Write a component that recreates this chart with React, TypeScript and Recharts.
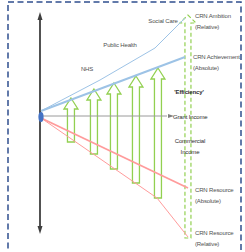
import { Bar, ComposedChart, Line, ReferenceArea, Scatter, XAxis, YAxis } from 'recharts'

// origin of the diagram sits at x=0, y=0 (grant income baseline)
const ARROW_X = [31, 54, 74, 96, 118, 148]
const ARROW_TOP = [18, 27, 33, 40, 48, 101]
const ARROW_BOTTOM = [-26, -38, -53, -67, -82, -122]
const ARROW_DASHED = [false, false, false, false, false, true]

const AMBITION = [
  { x: 1, y: 5 },
  { x: 60, y: 36 },
  { x: 115, y: 68 },
  { x: 145, y: 98 },
]
const ACHIEVEMENT = [
  { x: 1, y: 5 },
  { x: 145, y: 59 },
]
const RESOURCE_ABS = [
  { x: 1, y: -2 },
  { x: 148, y: -72 },
]
const RESOURCE_REL = [
  { x: 1, y: -2 },
  { x: 117, y: -82 },
  { x: 148, y: -121 },
]
const V_AXIS = [
  { x: 0, y: -111 },
  { x: 0, y: 98 },
]
const H_AXIS = [
  { x: 0, y: 0 },
  { x: 127, y: 0 },
]
const HEADS = [
  { x: 0, y: 100, dir: 'up' },
  { x: 0, y: -114, dir: 'down' },
  { x: 131, y: 0, dir: 'right' },
]
const ORIGIN = [{ x: 0, y: 0 }]

const LABELS = [
  { x: 123, y: 96, anchor: 'middle', lines: ['Social Care'] },
  { x: 80, y: 72, anchor: 'middle', lines: ['Public Health'] },
  { x: 47, y: 48, anchor: 'middle', lines: ['NHS'] },
  { x: 155, y: 101, anchor: 'start', lines: ['CRN Ambition', '(Relative)'] },
  { x: 153, y: 60, anchor: 'start', lines: ['CRN Achievement', '(Absolute)'] },
  { x: 149, y: 25, anchor: 'middle', lines: ["'Efficiency'"], bold: true },
  { x: 133, y: 0, anchor: 'start', lines: ['Grant Income'], dark: true },
  { x: 150, y: -24, anchor: 'middle', lines: ['Commercial', 'Income'], dark: true },
  { x: 155, y: -73, anchor: 'start', lines: ['CRN Resource', '(Absolute)'] },
  { x: 155, y: -116, anchor: 'start', lines: ['CRN Resource', '(Relative)'] },
]

const arrows = ARROW_X.map((x, i) => ({
  x,
  range: [ARROW_BOTTOM[i], ARROW_TOP[i]],
  dashed: ARROW_DASHED[i],
}))

const GREEN = '#92d050'
const BLUE = '#9dc3e6'
const RED = '#ff9b9b'
const AXIS = '#3f3f3f'
const TEXT = '#505050'

function ArrowShape(props: any) {
  const { x, y, width, height, payload } = props
  if (x == null || y == null) return null
  const top = Math.min(y, y + height)
  const bottom = Math.max(y, y + height)
  const cx = x + width / 2
  const head = payload.dashed ? 8 : 11
  const half = payload.dashed ? 8 : 7
  const shaft = payload.dashed ? 3 : 3.5
  const d = [
    `M${cx},${top}`,
    `L${cx + half},${top + head}`,
    `L${cx + shaft},${top + head}`,
    `L${cx + shaft},${bottom}`,
    `L${cx - shaft},${bottom}`,
    `L${cx - shaft},${top + head}`,
    `L${cx - half},${top + head}`,
    'Z',
  ].join(' ')
  return (
    <path
      d={d}
      fill="none"
      stroke={GREEN}
      strokeWidth={payload.dashed ? 1.2 : 1.3}
      strokeDasharray={payload.dashed ? '4 2.5' : undefined}
    />
  )
}

function HeadDot(props: any) {
  const { cx, cy, payload, index } = props
  let pts = ''
  if (payload.dir === 'up') pts = `${cx},${cy - 4} ${cx - 2.5},${cy + 4} ${cx + 2.5},${cy + 4}`
  if (payload.dir === 'down') pts = `${cx},${cy + 4} ${cx - 2.5},${cy - 4} ${cx + 2.5},${cy - 4}`
  if (payload.dir === 'right') pts = `${cx + 3},${cy} ${cx - 3},${cy - 2} ${cx - 3},${cy + 2}`
  return <polygon key={index} points={pts} fill={payload.dir === 'right' ? '#7f7f7f' : AXIS} />
}

function OriginDot(props: any) {
  const { cx, cy, index } = props
  return <ellipse key={index} cx={cx + 1} cy={cy + 1} rx={2.6} ry={5} fill="#4472c4" />
}

function LabelShape(props: any) {
  const { cx, cy, payload } = props
  return (
    <text
      x={cx}
      y={cy}
      textAnchor={payload.anchor}
      fontFamily="'Liberation Sans Narrow', 'Liberation Sans', sans-serif"
      fontSize={6}
      letterSpacing={-0.15}
      fontWeight={payload.bold ? 'bold' : 'normal'}
      fill={payload.bold || payload.dark ? '#2e2e2e' : TEXT}
    >
      {payload.lines.map((l: string, i: number) => (
        <tspan key={i} x={cx} dy={i === 0 ? 2.5 : 11.5}>
          {l}
        </tspan>
      ))}
    </text>
  )
}

export default function App() {
  return (
    <div style={{ position: 'absolute', left: 0, top: 0, width: 245, height: 252, background: '#fff' }}>
      <ComposedChart width={245} height={252} data={arrows} margin={{ top: 0, right: 0, bottom: 0, left: 0 }}>
        <XAxis type="number" dataKey="x" domain={[-40, 205]} hide allowDataOverflow />
        <YAxis type="number" domain={[-136, 116]} hide allowDataOverflow />
        <ReferenceArea
          x1={-32}
          x2={201}
          y1={-142}
          y2={114}
          ifOverflow="visible"
          fill="none"
          stroke="#2f4f8f"
          strokeWidth={1.5}
          strokeDasharray="6 3.5"
        />
        <Line data={V_AXIS} dataKey="y" stroke={AXIS} strokeWidth={1.8} dot={false} activeDot={false} isAnimationActive={false} />
        <Line data={H_AXIS} dataKey="y" stroke="#9a9a9a" strokeWidth={1} dot={false} activeDot={false} isAnimationActive={false} />
        <Bar dataKey="range" barSize={14} shape={ArrowShape} activeBar={false} isAnimationActive={false} />
        <Line data={AMBITION} dataKey="y" stroke={BLUE} strokeWidth={1} dot={false} activeDot={false} isAnimationActive={false} />
        <Line data={ACHIEVEMENT} dataKey="y" stroke={BLUE} strokeWidth={2} dot={false} activeDot={false} isAnimationActive={false} />
        <Line data={RESOURCE_ABS} dataKey="y" stroke={RED} strokeWidth={1.8} dot={false} activeDot={false} isAnimationActive={false} />
        <Line data={RESOURCE_REL} dataKey="y" stroke={RED} strokeWidth={1} dot={false} activeDot={false} isAnimationActive={false} />
        <Line data={HEADS} dataKey="y" stroke="none" dot={HeadDot} activeDot={false} isAnimationActive={false} />
        <Line data={ORIGIN} dataKey="y" stroke="none" dot={OriginDot} activeDot={false} isAnimationActive={false} />
        <Scatter data={LABELS} dataKey="y" shape={LabelShape} activeShape={false} isAnimationActive={false} />
      </ComposedChart>
    </div>
  )
}
